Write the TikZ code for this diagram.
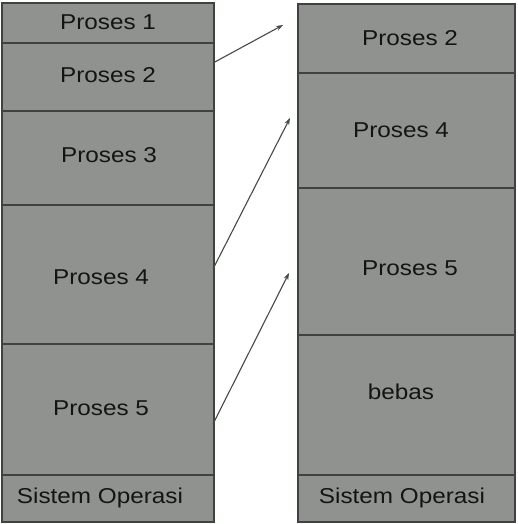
\documentclass[tikz,border=0pt]{standalone}
\usepackage{fontspec}
\setmainfont{Liberation Sans}
\newfontfamily\memfont[FakeStretch=1.13]{Liberation Sans}
\usetikzlibrary{arrows.meta}
\definecolor{memfill}{RGB}{144,146,144}
\definecolor{memline}{RGB}{64,66,64}
\definecolor{arrline}{RGB}{72,72,72}
\begin{document}
\begin{tikzpicture}[x=1pt,y=-1pt,
  mem/.style={draw=memline, fill=memfill, line width=1.8pt, anchor=north west, inner sep=0pt, minimum width=#1},
  lmem/.style={mem=212pt},
  rmem/.style={mem=217pt},
  lbl/.style={font=\memfont\fontsize{21.5}{25}\selectfont, text=black!92, inner sep=0pt},
  move/.style={draw=arrline, line width=1.1pt, -{Stealth[length=7pt,width=5pt]}}
]
\useasboundingbox (0,0) rectangle (518,524);
% left column
\node[lmem, minimum height=40pt]  (l1) at (0.9,2)   {};
\node[lmem, minimum height=68pt]  (l2) at (0.9,42)  {};
\node[lmem, minimum height=94pt]  (l3) at (0.9,110) {};
\node[lmem, minimum height=139pt] (l4) at (0.9,204) {};
\node[lmem, minimum height=131pt] (l5) at (0.9,343) {};
\node[lmem, minimum height=47pt]  (l6) at (0.9,474) {};
% right column
\node[rmem, minimum height=69pt]  (r1) at (297,3)   {};
\node[rmem, minimum height=115pt] (r2) at (297,72)  {};
\node[rmem, minimum height=147pt] (r3) at (297,187) {};
\node[rmem, minimum height=140pt] (r4) at (297,334) {};
\node[rmem, minimum height=47pt]  (r5) at (297,474) {};
% labels
\node[lbl] (t1) at (108,22)  {Proses 1};
\node[lbl] (t2) at (108,75)  {Proses 2};
\node[lbl] (t3) at (109,155) {Proses 3};
\node[lbl] (t4) at (101,277) {Proses 4};
\node[lbl] (t5) at (101,408) {Proses 5};
\node[lbl] (t6) at (100,498) {Sistem Operasi};
\node[lbl] (u1) at (410,38)  {Proses 2};
\node[lbl] (u2) at (401,130) {Proses 4};
\node[lbl] (u3) at (410,268) {Proses 5};
\node[lbl] (u4) at (401,392) {bebas};
\node[lbl] (u5) at (402,498) {Sistem Operasi};
% arrow end points
\coordinate (a1s) at (213,63);
\coordinate (a1e) at (283,25);
\coordinate (a2s) at (213,269);
\coordinate (a2e) at (290,118);
\coordinate (a3s) at (213,424);
\coordinate (a3e) at (289,273);
\draw[move] (a1s) -- (a1e);
\draw[move] (a2s) -- (a2e);
\draw[move] (a3s) -- (a3e);
\end{tikzpicture}
\end{document}
